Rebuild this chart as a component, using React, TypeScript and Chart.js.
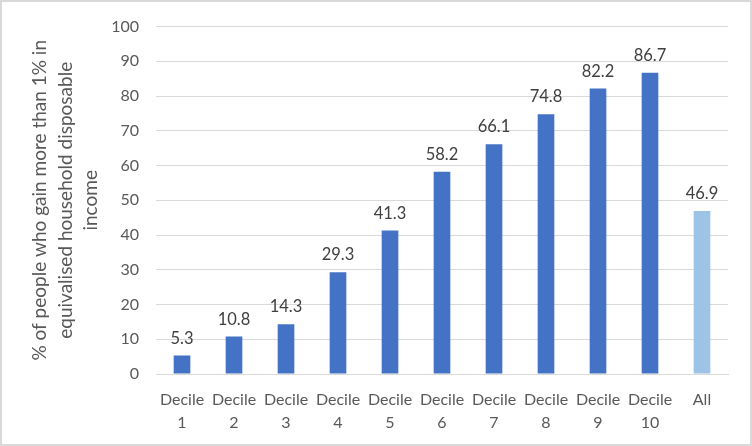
import React, { useEffect, useRef } from "react";
import { Chart, registerables } from "chart.js";

Chart.register(...registerables);

const categories: string[][] = [
  ["Decile", "1"], ["Decile", "2"], ["Decile", "3"], ["Decile", "4"], ["Decile", "5"],
  ["Decile", "6"], ["Decile", "7"], ["Decile", "8"], ["Decile", "9"], ["Decile", "10"], ["All"],
];
const values: number[] = [5.3, 10.8, 14.3, 29.3, 41.3, 58.2, 66.1, 74.8, 82.2, 86.7, 46.9];
const barColors: string[] = [
  "#4472C4", "#4472C4", "#4472C4", "#4472C4", "#4472C4",
  "#4472C4", "#4472C4", "#4472C4", "#4472C4", "#4472C4", "#9DC3E6",
];
const yTitle: string[] = [
  "% of people who gain more than 1% in",
  "equivalised household disposable",
  "income",
];

const FONT = "Lato, 'Open Sans', sans-serif";

const labelPlugin = {
  id: "barLabels",
  afterDatasetsDraw(chart: any) {
    const ctx = chart.ctx;
    const meta = chart.getDatasetMeta(0);
    ctx.save();
    ctx.font = `16.5px ${FONT}`;
    ctx.fillStyle = "#404040";
    ctx.textAlign = "center";
    ctx.textBaseline = "bottom";
    meta.data.forEach((bar: any, i: number) => {
      ctx.fillText(values[i].toFixed(1), bar.x, bar.y - 9);
    });
    ctx.restore();
  },
};

export default function App() {
  const ref = useRef<HTMLCanvasElement | null>(null);
  useEffect(() => {
    document.body.style.margin = "0";
    if (!ref.current) return;
    const chart = new Chart(ref.current, {
      type: "bar",
      data: {
        labels: categories,
        datasets: [
          {
            data: values,
            backgroundColor: barColors,
            barPercentage: 0.32,
            categoryPercentage: 1,
          },
        ],
      },
      options: {
        animation: false,
        responsive: false,
        layout: { padding: { left: 18, right: 24, top: 23, bottom: 14 } },
        plugins: { legend: { display: false }, tooltip: { enabled: false } },
        scales: {
          x: {
            grid: { display: false, drawTicks: false },
            border: { display: true, color: "#D9D9D9", width: 1 },
            ticks: {
              color: "#595959",
              font: { family: FONT, size: 16, lineHeight: 1.45 },
              padding: 14,
              maxRotation: 0,
              autoSkip: false,
            },
            afterFit: (s: any) => { s.height = 58; },
          },
          y: {
            min: 0,
            max: 100,
            ticks: {
              stepSize: 10,
              color: "#595959",
              font: { family: FONT, size: 16 },
              padding: 17,
            },
            grid: { color: "#D9D9D9", drawTicks: false, lineWidth: 1 },
            border: { display: false },
            title: {
              display: true,
              text: yTitle,
              color: "#595959",
              font: { family: FONT, size: 19, lineHeight: 1.35 },
              padding: { top: 9, bottom: 0 },
            },
            afterFit: (s: any) => { s.width = 138; },
          },
        },
      },
      plugins: [labelPlugin],
    });
    return () => chart.destroy();
  }, []);
  return (
    <div style={{ width: 752, height: 446, position: "relative", boxSizing: "border-box" }}>
      <canvas ref={ref} width={752} height={446} style={{ display: "block" }} />
      <div
        style={{
          position: "absolute",
          inset: 0,
          border: "2px solid #D9D9D9",
          pointerEvents: "none",
        }}
      />
    </div>
  );
}
